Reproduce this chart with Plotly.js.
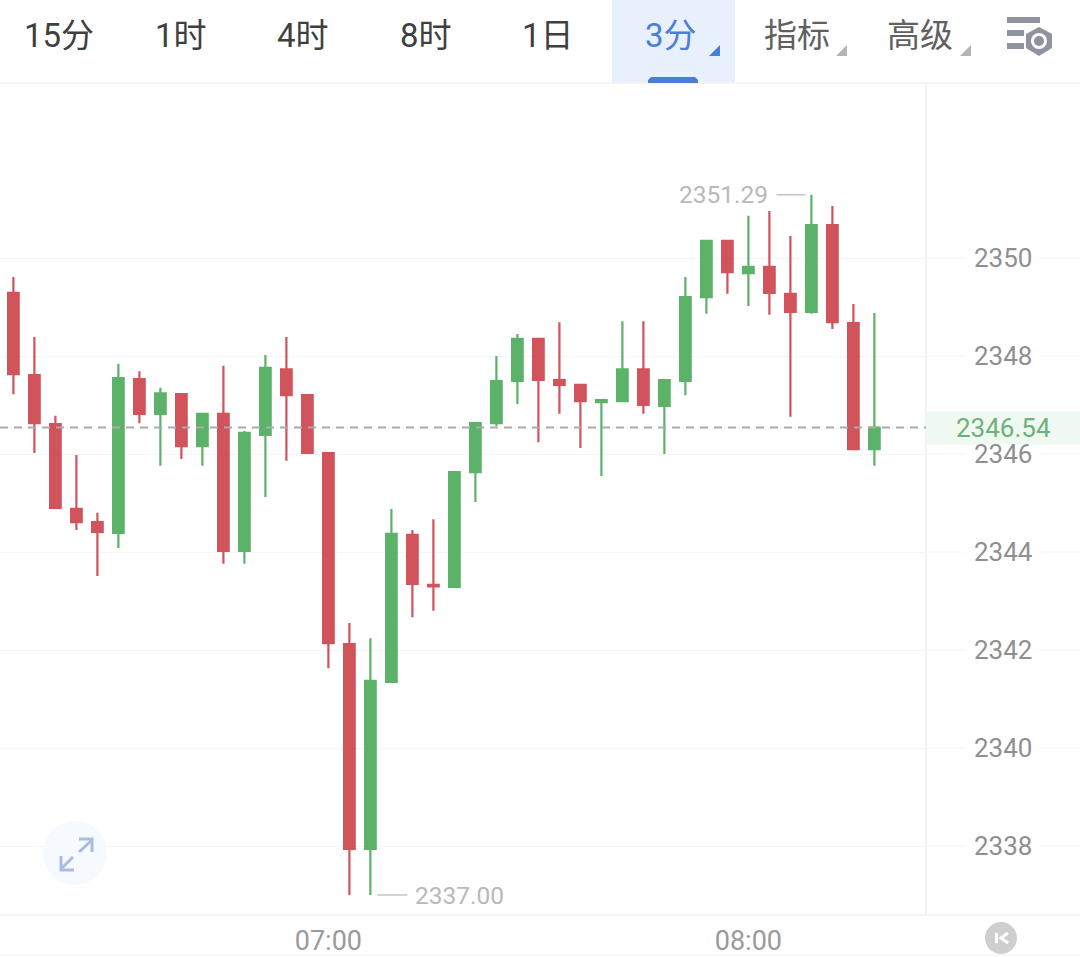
<!DOCTYPE html>
<html>
<head>
<meta charset="utf-8">
<script src="https://cdn.plot.ly/plotly-3.0.1.min.js"></script>
<style>html,body{margin:0;padding:0;background:#fff;overflow:hidden}</style>
</head>
<body>
<div id="chart" style="width:1080px;height:957px"></div>
<script>
const times = ["06:15","06:18","06:21","06:24","06:27","06:30","06:33","06:36","06:39","06:42","06:45","06:48","06:51","06:54","06:57","07:00","07:03","07:06","07:09","07:12","07:15","07:18","07:21","07:24","07:27","07:30","07:33","07:36","07:39","07:42","07:45","07:48","07:51","07:54","07:57","08:00","08:03","08:06","08:09","08:12","08:15","08:18"];
const opens = [2349.29,2347.61,2346.61,2344.88,2344.61,2344.39,2347.53,2346.82,2347.22,2346.16,2346.82,2344.02,2346.39,2347.73,2347.20,2346.02,2342.12,2337.94,2341.35,2344.35,2343.33,2343.29,2345.63,2346.63,2347.49,2348.35,2347.51,2347.41,2347.06,2347.08,2347.73,2346.98,2347.49,2349.20,2350.35,2349.69,2349.82,2349.27,2348.90,2350.67,2348.67,2346.10];
const highs = [2349.61,2348.39,2346.78,2345.98,2344.80,2347.84,2347.69,2347.35,2347.22,2346.82,2347.80,2346.47,2348.02,2348.39,2347.20,2346.02,2342.55,2342.24,2344.88,2344.45,2344.67,2345.63,2346.63,2348.00,2348.45,2348.35,2348.69,2347.41,2347.10,2348.71,2348.71,2347.53,2349.61,2350.35,2350.35,2350.86,2350.96,2350.45,2351.29,2351.06,2349.06,2348.88];
const lows = [2347.22,2346.02,2344.90,2344.45,2343.51,2344.08,2346.63,2345.76,2345.90,2345.76,2343.76,2343.76,2345.12,2345.86,2346.02,2341.63,2337.00,2337.00,2341.35,2342.67,2342.80,2343.29,2345.02,2346.57,2347.02,2346.24,2346.82,2346.12,2345.55,2347.08,2346.82,2346.00,2347.20,2348.86,2349.27,2349.02,2348.84,2346.76,2348.86,2348.55,2346.08,2345.76];
const closes = [2347.63,2346.63,2344.90,2344.61,2344.41,2347.55,2346.82,2347.24,2346.16,2346.82,2344.02,2346.43,2347.76,2347.20,2346.02,2342.14,2337.94,2341.37,2344.37,2343.35,2343.30,2345.63,2346.63,2347.49,2348.35,2347.51,2347.41,2347.08,2347.10,2347.73,2347.00,2347.51,2349.20,2350.35,2349.71,2349.82,2349.29,2348.90,2350.67,2348.69,2346.10,2346.54];
const yTicks = [2338,2340,2342,2344,2346,2348,2350];
const xTicks = ["07:00","08:00"];
const tabs = ["15分","1时","4时","8时","1日"];
const activeTab = "3分";
const menus = ["指标","高级"];

const RED = "#d1535c", GREEN = "#5db26a", BLUE = "#4a7fd8";
const FONT = 'Roboto, "Noto Sans CJK SC", sans-serif';
const PW = 926, PT = 83, PH = 831;
const X = p => p / PW;
const Y = p => 1 - (p - PT) / PH;
const path = (pts, close) => pts.map((q, i) => (i ? "L" : "M") + X(q[0]) + "," + Y(q[1])).join(" ") + (close ? " Z" : "");
const shapes = [];
const ann = [];
const rect = (x0, y0, x1, y1, fill) => shapes.push({type:"rect", xref:"paper", yref:"paper", x0:X(x0), x1:X(x1), y0:Y(y0), y1:Y(y1), fillcolor:fill, line:{width:0}, layer:"below"});
const circle = (cx, cy, r, fill, line) => shapes.push({type:"circle", xref:"paper", yref:"paper", x0:X(cx-r), x1:X(cx+r), y0:Y(cy-r), y1:Y(cy+r), fillcolor:fill, line:line || {width:0}, layer:"above"});
const poly = (pts, fill) => shapes.push({type:"path", xref:"paper", yref:"paper", path:path(pts, true), fillcolor:fill, line:{width:0}, layer:"above"});
const stroke = (pts, color, w) => shapes.push({type:"path", xref:"paper", yref:"paper", path:path(pts, false), line:{color:color, width:w}, layer:"above"});
const text = (t, cx, cy, size, color) => ann.push({xref:"paper", yref:"paper", x:X(cx), y:Y(cy), text:t, showarrow:false, xanchor:"center", yanchor:"middle", font:{family:FONT, size:size, color:color}});

// tab bar
rect(612, 0, 735, 83, "#e8f0fb");
rect(0, 82, 1080, 84, "#f4f4f4");
const tabCx = [59, 181, 303, 426, 548];
tabs.forEach((t, i) => text(t, tabCx[i], 35, 33, "#3f3f3f"));
text(activeTab, 671, 35, 33, BLUE);
text(menus[0], 797, 35, 33, "#606060");
text(menus[1], 920, 35, 33, "#606060");
shapes.push({type:"path", xref:"paper", yref:"paper", path:path([[648,83],[648,80],[651,77],[695,77],[698,80],[698,83]], true), fillcolor:BLUE, line:{width:0}, layer:"above"});
poly([[720,45],[720,56],[709,56]], BLUE);
poly([[847,45],[847,56],[836,56]], "#b4b4b4");
poly([[971,45],[971,56],[960,56]], "#b4b4b4");
// settings icon
rect(1007, 17, 1040, 23, "#8f939e");
rect(1007, 30, 1024, 36, "#8f939e");
rect(1007, 43, 1024, 49, "#8f939e");
poly([[1039,27],[1052,34],[1052,48],[1039,56],[1026,48],[1026,34]], "#8f939e");
circle(1039, 41, 8, "#ffffff");
circle(1039, 41, 5, "#8f939e");

// frame lines and grid extensions
rect(925, 84, 927, 914, "#f3f3f3");
rect(0, 914, 1080, 916, "#f3f3f3");
rect(0, 954, 1080, 956, "#f7f7f7");
yTicks.forEach(v => {
  [[1, 965 / PW], [1038 / PW, 1080 / PW]].forEach(s => shapes.push({type:"line", xref:"paper", yref:"y", x0:s[0], x1:s[1], y0:v, y1:v, line:{color:"#f5f5f5", width:1}, layer:"below"}));
});

// current price
const last = closes[closes.length - 1];
shapes.push({type:"rect", xref:"paper", yref:"y", ysizemode:"pixel", yanchor:last, x0:1, x1:1080 / PW, y0:-17, y1:16, fillcolor:"#eff9f1", line:{width:0}, layer:"below"});
shapes.push({type:"line", xref:"paper", yref:"y", x0:0, x1:1, y0:last, y1:last, line:{color:"#aaaaaa", width:2, dash:"8px,6px"}, layer:"above"});
ann.push({xref:"paper", yref:"y", x:1003 / PW, y:last, text:last.toFixed(2), showarrow:false, xanchor:"center", yanchor:"middle", font:{family:FONT, size:26, color:"#6cb27a"}});

// high / low markers
const hiV = Math.max(...highs), hiI = highs.indexOf(hiV);
const loV = Math.min(...lows), loI = lows.lastIndexOf(loV);
shapes.push({type:"line", xref:"x", yref:"y", xsizemode:"pixel", xanchor:hiI, x0:-35, x1:-6, y0:hiV, y1:hiV, line:{color:"#c4c4c4", width:1.5}, layer:"above"});
shapes.push({type:"line", xref:"x", yref:"y", xsizemode:"pixel", xanchor:loI, x0:7, x1:37, y0:loV, y1:loV, line:{color:"#c4c4c4", width:1.5}, layer:"above"});
ann.push({xref:"x", yref:"y", x:times[hiI], y:hiV, xshift:-41, text:hiV.toFixed(2), showarrow:false, xanchor:"right", yanchor:"middle", font:{family:FONT, size:24.5, color:"#b9b9b9"}});
ann.push({xref:"x", yref:"y", x:times[loI], y:loV, xshift:43, text:loV.toFixed(2), showarrow:false, xanchor:"left", yanchor:"middle", font:{family:FONT, size:24.5, color:"#b9b9b9"}});

// expand button
circle(75, 853, 32, "#f6f9fe");
const AR = "#a9bde3";
stroke([[79,852],[92,840]], AR, 3);
stroke([[79,839],[92,839],[92,852]], AR, 3);
stroke([[73,857],[61,869]], AR, 3);
stroke([[61,856],[61,870],[74,870]], AR, 3);

// back-to-latest button
circle(1001, 938, 16, "#cfcfcf");
rect(995, 933, 998, 943, "#ffffff");
shapes[shapes.length - 1].layer = "above";
stroke([[1008,933],[1001,938],[1008,943]], "#ffffff", 3);

const trace = {
  type: "candlestick",
  x: times, open: opens, high: highs, low: lows, close: closes,
  increasing: {line:{color:GREEN, width:2.2}, fillcolor:GREEN},
  decreasing: {line:{color:RED, width:2.2}, fillcolor:RED},
  whiskerwidth: 0,
  hoverinfo: "skip",
  showlegend: false
};

const layout = {
  width: 1080, height: 957,
  margin: {l:0, r:154, t:83, b:43, pad:0},
  paper_bgcolor: "#ffffff", plot_bgcolor: "#ffffff",
  boxgap: 0.28,
  showlegend: false,
  font: {family:FONT},
  xaxis: {
    type:"category", range:[-13.4/21, 912.6/21], rangeslider:{visible:false},
    tickmode:"array", tickvals:xTicks, ticktext:xTicks,
    showgrid:false, zeroline:false, showline:false, ticks:"", ticklabelstandoff:8,
    tickfont:{family:FONT, size:27, color:"#9a9a9a"}, fixedrange:true
  },
  yaxis: {
    side:"right", range:[2350-656/49, 2350+175/49],
    tickmode:"array", tickvals:yTicks, ticktext:yTicks.map(String),
    showgrid:true, gridcolor:"#f5f5f5", gridwidth:1, zeroline:false, showline:false,
    ticks:"", ticklabelstandoff:47,
    tickfont:{family:FONT, size:26, color:"#8f8f8f"}, fixedrange:true
  },
  shapes: shapes,
  annotations: ann
};

Plotly.newPlot("chart", [trace], layout, {displayModeBar:false, staticPlot:true});
</script>
</body>
</html>
